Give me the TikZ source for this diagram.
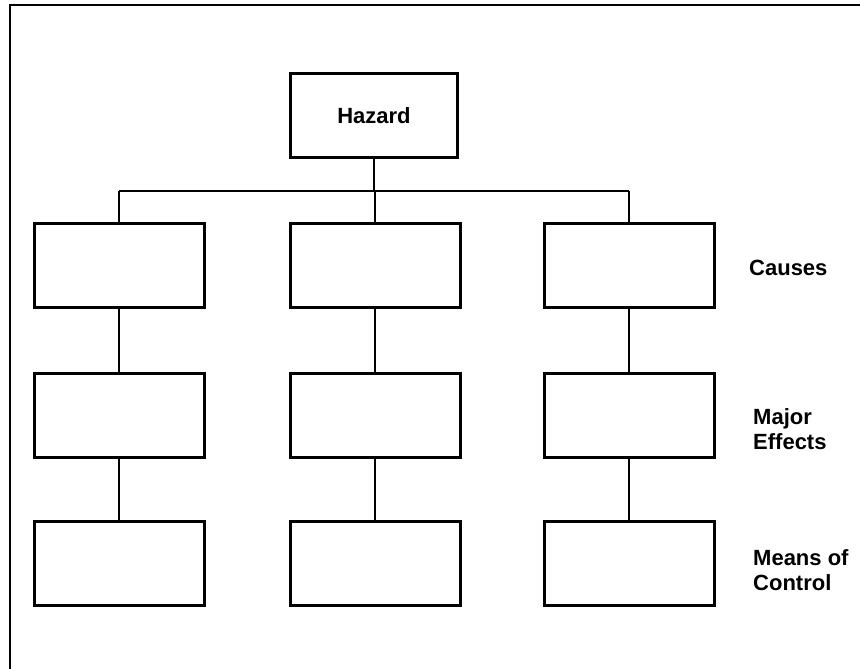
\documentclass[tikz,border=0pt]{standalone}
\usepackage{fontspec}
\setmainfont{Liberation Sans}

\begin{document}
\begin{tikzpicture}[x=1pt, y=-1pt,
    box/.style={draw, line width=3pt, minimum width=170pt, minimum height=84pt, inner sep=0pt},
    link/.style={line width=2.2pt},
    tag/.style={anchor=west, align=left, font=\fontsize{22}{25}\selectfont\bfseries, inner sep=0pt}]
    \useasboundingbox (0,0) rectangle (860,669);

    % frame, only the left and top edges show
    \draw[line width=2.2pt] (10,669) -- (10,5) -- (860,5);

    \node[box, minimum width=167pt, font=\fontsize{22}{25}\selectfont\bfseries] (hazard) at (374,115.5) {Hazard};
    \coordinate (bus) at (374,191);

    % three columns, three rows of empty boxes
    \foreach \c/\x in {1/119, 2/375, 3/629} {
      \foreach \r/\y in {1/265.5, 2/415, 3/563.5} {
        \node[box] (b-\c-\r) at (\x,\y) {};
      }
      \draw[link] (b-\c-1.north |- bus) -- (b-\c-1.north);
      \draw[link] (b-\c-1) -- (b-\c-2);
      \draw[link] (b-\c-2) -- (b-\c-3);
    }
    \draw[link] (hazard) -- (hazard.south |- bus);
    \draw[link] (b-1-1.north |- bus) -- (b-3-1.north |- bus);

    \node[tag] (causes) at (749,268) {Causes};
    \node[tag] (effects) at (753,429) {Major\\Effects};
    \node[tag] (control) at (753,570) {Means of\\Control};
  \end{tikzpicture}
\end{document}
